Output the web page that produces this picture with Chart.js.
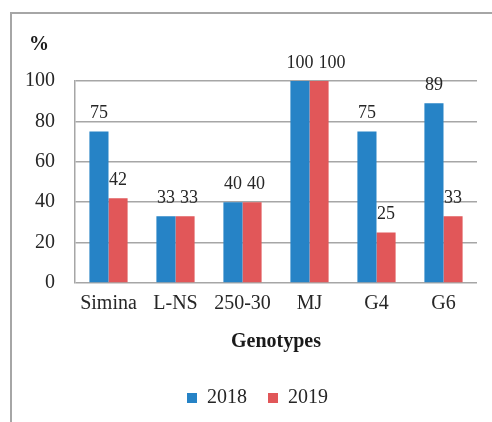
<!DOCTYPE html>
<html>
<head>
<meta charset="utf-8">
<script src="https://cdn.jsdelivr.net/npm/chart.js@4/dist/chart.umd.min.js"></script>
<style>
  html, body { margin: 0; padding: 0; background: #fff; }
  #wrap { position: relative; width: 492px; height: 422px; overflow: hidden; }
  #frame { position: absolute; left: 10px; top: 12px; width: 500px; height: 430px;
           border-left: 2px solid #a6a6a6; border-top: 2px solid #a6a6a6; }
  #chart { position: absolute; left: 0; top: 0; }
</style>
</head>
<body>
<div id="wrap">
  <div id="frame"></div>
  <canvas id="chart" width="492" height="422"></canvas>
</div>
<script>
const genotypes = ['Simina', 'L-NS', '250-30', 'MJ', 'G4', 'G6'];
const vals2018 = [75, 33, 40, 100, 75, 89];
const vals2019 = [42, 33, 40, 100, 25, 33];
const yTicks = [0, 20, 40, 60, 80, 100];

const serif = '"Liberation Serif", "Times New Roman", serif';
const gridGray = '#a6a6a6';

// numbers above each bar, pushed apart when two in a group would overlap
const barLabels = {
    id: 'barLabels',
    afterDatasetsDraw(chart) {
        const ctx = chart.ctx;
        ctx.save();
        ctx.font = '18px ' + serif;
        ctx.fillStyle = '#262626';
        ctx.textAlign = 'center';
        ctx.textBaseline = 'bottom';
        const lastRight = {};
        chart.data.datasets.forEach((ds, i) => {
            chart.getDatasetMeta(i).data.forEach((bar, j) => {
                const txt = String(ds.data[j]);
                const w = ctx.measureText(txt).width;
                let x = bar.x;
                const y = bar.y - 9;
                const prev = lastRight[j];
                if (prev && Math.abs(prev.y - y) < 14 && x - w / 2 < prev.right + 5) {
                    x = prev.right + 5 + w / 2;
                }
                ctx.fillText(txt, x, y);
                lastRight[j] = { right: x + w / 2, y: y };
            });
        });
        ctx.restore();
    }
};

// the "%" unit sitting above the y axis, and the legend nudged to the frame's centre
const extras = {
    id: 'extras',
    afterLayout(chart) {
        if (chart.legend) {
            chart.legend.left += 19;
            chart.legend.right += 19;
        }
    },
    afterDraw(chart) {
        const ctx = chart.ctx;
        ctx.save();
        ctx.font = 'bold 20px ' + serif;
        ctx.fillStyle = '#1a1a1a';
        ctx.textAlign = 'center';
        ctx.textBaseline = 'middle';
        ctx.fillText('%', 39, 45);
        ctx.restore();
    }
};

const ctx = document.getElementById('chart').getContext('2d');
const myChart = new Chart(ctx, {
    type: 'bar',
    data: {
        labels: genotypes,
        datasets: [{
            label: '2018',
            data: vals2018,
            backgroundColor: '#2683c6',
            categoryPercentage: 0.57,
            barPercentage: 1.0
        }, {
            label: '2019',
            data: vals2019,
            backgroundColor: '#e15759',
            categoryPercentage: 0.57,
            barPercentage: 1.0
        }]
    },
    options: {
        responsive: false,
        animation: false,
        layout: { padding: { left: 0, top: 81, right: 15, bottom: 4 } },
        plugins: {
            tooltip: { enabled: false },
            legend: {
                position: 'bottom',
                labels: {
                    boxWidth: 10,
                    boxHeight: 10,
                    padding: 21,
                    color: '#262626',
                    font: { family: serif, size: 20 }
                }
            }
        },
        scales: {
            x: {
                grid: { display: false },
                border: { display: false },
                ticks: { color: '#262626', padding: 1, font: { family: serif, size: 20 } },
                title: {
                    display: true,
                    text: 'Genotypes',
                    color: '#1a1a1a',
                    padding: { top: 6, bottom: 13 },
                    font: { family: serif, size: 20, weight: 'bold' }
                },
                afterFit(scale) { scale.height = 84; }
            },
            y: {
                min: 0,
                max: 100,
                afterBuildTicks(scale) { scale.ticks = yTicks.map(v => ({ value: v })); },
                grid: { color: gridGray, lineWidth: 1.5, drawTicks: false },
                border: { display: true, color: gridGray, width: 1.5 },
                ticks: { color: '#262626', padding: 20, font: { family: serif, size: 20 } },
                afterFit(scale) { scale.width = 75; }
            }
        }
    },
    plugins: [barLabels, extras]
});
</script>
</body>
</html>
